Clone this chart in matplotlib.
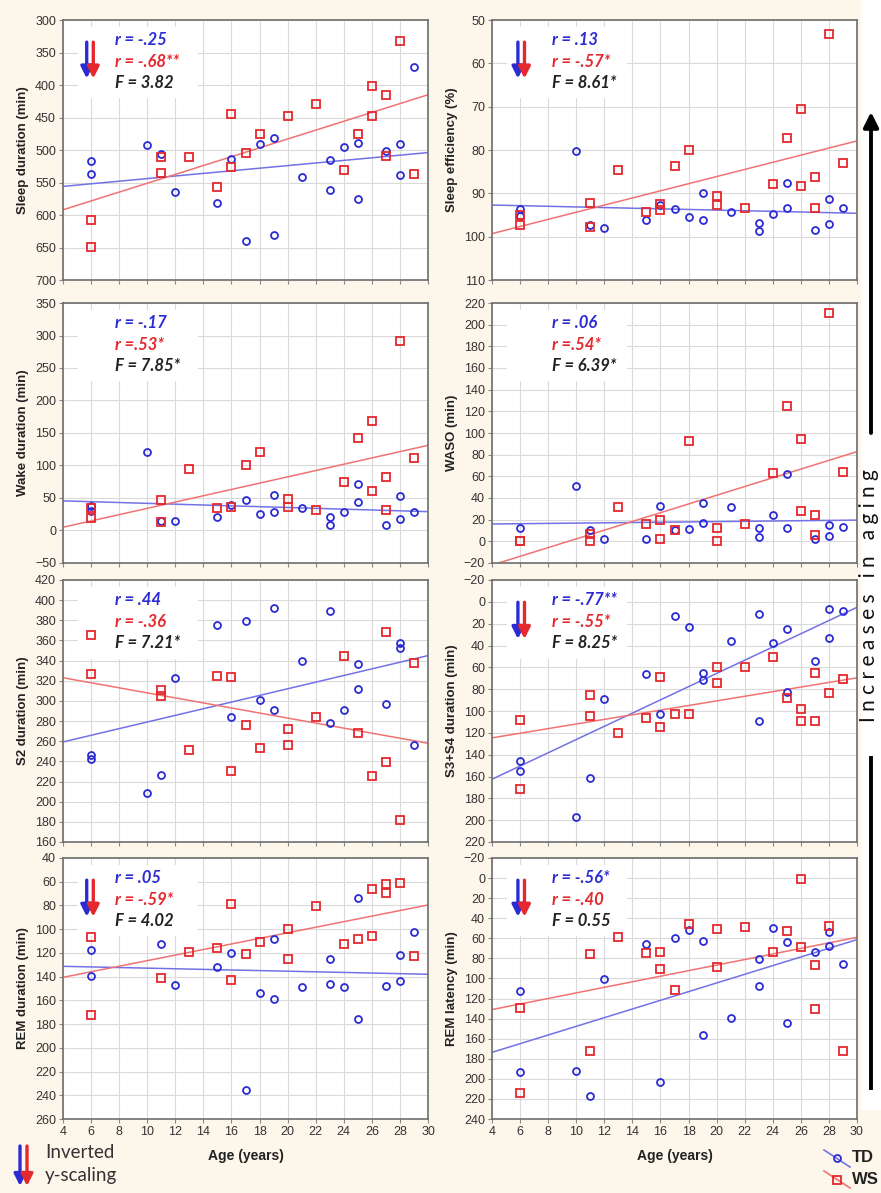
import numpy as np
import matplotlib
matplotlib.use("Agg")
import matplotlib.pyplot as plt
from matplotlib.patches import Rectangle

# ---- data (age in years) ----
sleep_td_age = [6, 6, 10, 11, 12, 15, 16, 17, 18, 19, 19, 21, 23, 23, 24, 25, 25, 27, 28, 28, 29]
sleep_td = [517, 537, 493, 506, 565, 582, 514, 640, 490, 482, 631, 541, 515, 562, 496, 489, 575, 501, 491, 539, 372]
sleep_ws_age = [6, 6, 11, 11, 13, 15, 16, 16, 17, 18, 20, 22, 24, 25, 26, 26, 27, 27, 28, 29]
sleep_ws = [607, 649, 511, 535, 510, 557, 444, 526, 504, 476, 447, 429, 530, 475, 402, 447, 416, 509, 332, 537]

eff_td_age = [6, 6, 10, 11, 12, 15, 16, 17, 18, 19, 19, 21, 23, 23, 24, 25, 25, 27, 28, 28, 29]
eff_td = [93.5, 95.2, 80.3, 97.4, 98.1, 96.2, 92.8, 93.6, 95.5, 89.9, 96.2, 94.3, 96.8, 98.7, 94.8, 87.5, 93.3, 98.4, 91.4, 97.0, 93.4]
eff_ws_age = [6, 6, 11, 11, 13, 15, 16, 16, 17, 18, 20, 20, 22, 24, 25, 26, 26, 27, 27, 28, 29]
eff_ws = [95.0, 97.3, 92.3, 97.8, 84.6, 94.4, 92.5, 93.8, 83.7, 80.1, 90.5, 92.6, 93.3, 87.8, 77.2, 70.6, 88.2, 86.2, 93.3, 53.3, 83.0]

wake_td_age = [6, 6, 10, 11, 12, 15, 16, 17, 18, 19, 19, 21, 23, 23, 24, 25, 25, 27, 28, 28, 29]
wake_td = [38, 30, 121, 14, 14, 21, 39, 47, 25, 55, 28, 35, 20, 8, 28, 72, 44, 9, 53, 17, 28]
wake_ws_age = [6, 6, 11, 11, 13, 15, 16, 17, 18, 20, 20, 22, 24, 25, 26, 26, 27, 27, 28, 29]
wake_ws = [34, 19, 47, 13, 95, 34, 36, 100, 120, 49, 36, 32, 74, 142, 168, 60, 83, 31, 291, 112]

waso_td_age = [6, 10, 11, 12, 15, 16, 17, 18, 19, 19, 21, 23, 23, 24, 25, 25, 27, 28, 28, 29]
waso_td = [12, 51, 10.7, 1.8, 1.8, 33, 10.4, 11.3, 35, 17, 32, 12.5, 3.6, 24.5, 62.5, 12.5, 2, 15.3, 4.8, 13.4]
waso_ws_age = [6, 6, 11, 11, 13, 15, 16, 16, 17, 18, 20, 20, 22, 24, 25, 26, 26, 27, 27, 28, 29]
waso_ws = [0.5, 0, 6.4, 0, 32, 15.6, 19.3, 2, 10, 92.3, 12, 0, 16, 63.5, 125, 94.8, 28, 24.5, 5.5, 211, 64.4]

s2_td_age = [6, 6, 10, 11, 12, 15, 16, 17, 18, 19, 19, 21, 23, 23, 24, 25, 25, 27, 28, 28, 29]
s2_td = [246, 242.5, 208.7, 226, 322.6, 375.6, 284.2, 379.3, 301.4, 392.2, 290.5, 339.2, 388.9, 277.9, 290.5, 336.5, 312.3, 297.1, 357.4, 352.8, 256.7]
s2_ws_age = [6, 6, 11, 11, 13, 15, 16, 16, 17, 18, 20, 20, 22, 24, 25, 26, 27, 27, 28, 29]
s2_ws = [365.7, 326.3, 310.4, 304.4, 251.4, 324.3, 324, 230.9, 276.2, 253.7, 272.3, 256.4, 283.9, 344.8, 268, 225.2, 368, 239.1, 182.2, 337.5]

sws_td_age = [6, 6, 10, 11, 12, 15, 16, 17, 18, 19, 19, 21, 23, 23, 24, 25, 25, 27, 28, 28, 29]
sws_td = [146, 154.9, 197.4, 161.6, 88.8, 66.5, 103.2, 12.7, 23.4, 65.3, 72, 35.6, 11.5, 109.3, 38.1, 24.6, 82.4, 54, 6.9, 33.5, 8.7]
sws_ws_age = [6, 6, 11, 11, 13, 15, 16, 16, 17, 18, 20, 20, 22, 24, 25, 26, 26, 27, 27, 28, 29]
sws_ws = [108.1, 171.7, 85.5, 105, 120.3, 106, 69.3, 114.5, 102.3, 102.3, 59.8, 73.9, 59.5, 50.3, 88.2, 98, 109, 65.6, 109, 83.3, 70.8]

remd_td_age = [6, 6, 11, 12, 15, 16, 17, 18, 19, 19, 21, 23, 23, 24, 25, 25, 27, 28, 28, 29]
remd_td = [117.8, 139.5, 112.2, 147, 131.9, 120.4, 235.8, 153.8, 108.6, 159.1, 148.7, 125.4, 145.9, 149, 73.7, 176, 147.6, 121.5, 144, 102.7]
remd_ws_age = [6, 6, 11, 13, 15, 16, 16, 17, 18, 20, 20, 22, 24, 25, 26, 26, 27, 27, 28, 29]
remd_ws = [106.6, 172.3, 140.9, 119.5, 116.1, 78.5, 142.6, 120.6, 110.5, 99.8, 124.9, 80.2, 112.5, 108.6, 66.4, 106, 61.6, 69.5, 60.8, 122.3]

reml_td_age = [6, 6, 10, 11, 12, 15, 16, 17, 18, 19, 19, 21, 23, 23, 24, 25, 25, 27, 28, 28, 29]
reml_td = [112.8, 193.1, 192.2, 217, 100.9, 66, 203.1, 59.7, 51.7, 63, 156.6, 139.4, 80.3, 107.8, 49.4, 64, 144.3, 73.6, 54, 67.6, 85.9]
reml_ws_age = [6, 6, 11, 11, 13, 15, 16, 16, 17, 18, 20, 20, 22, 24, 25, 26, 26, 27, 27, 28, 29]
reml_ws = [129.7, 214, 75.3, 172.2, 58.7, 74.6, 73.6, 90.2, 111.5, 45.4, 50.4, 88.9, 49, 73.6, 53, 0.9, 69, 86.2, 130, 48, 172.2]

# regression lines as drawn in the figure: value at age 4 and at age 30
fit_ages = [4, 30]
fit_td = [(556, 504), (92.7, 94.6), (45.6, 29), (16, 19.6),
          (259.3, 345), (162.5, 5), (131.3, 138), (173.6, 61.3)]
fit_ws = [(592, 415), (99.3, 77.9), (5, 131), (-21.9, 82.8),
          (323, 258), (124.6, 69.6), (140.6, 79.6), (131, 59)]

ylabels = ["Sleep duration (min)", "Sleep efficiency (%)", "Wake duration (min)", "WASO (min)",
           "S2 duration (min)", "S3+S4 duration (min)", "REM duration (min)", "REM latency (min)"]
r_td_txt = ["r = -.25", "r = .13", "r = -.17", "r = .06", "r = .44", "r = -.77**", "r = .05", "r = -.56*"]
r_ws_txt = ["r = -.68**", "r = -.57*", "r =.53*", "r =.54*", "r = -.36", "r = -.55*", "r = -.59*", "r = -.40"]
f_txt = ["F = 3.82", "F = 8.61*", "F = 7.85*", "F = 6.39*", "F = 7.21*", "F = 8.25*", "F = 4.02", "F = 0.55"]
inverted = [True, True, False, False, False, True, True, True]
y_ticks = [(300, 700, 50), (50, 110, 10), (-50, 350, 50), (-20, 220, 20),
           (160, 420, 20), (-20, 220, 20), (40, 260, 20), (-20, 240, 20)]

panels = [
    (sleep_td_age, sleep_td, sleep_ws_age, sleep_ws),
    (eff_td_age, eff_td, eff_ws_age, eff_ws),
    (wake_td_age, wake_td, wake_ws_age, wake_ws),
    (waso_td_age, waso_td, waso_ws_age, waso_ws),
    (s2_td_age, s2_td, s2_ws_age, s2_ws),
    (sws_td_age, sws_td, sws_ws_age, sws_ws),
    (remd_td_age, remd_td, remd_ws_age, remd_ws),
    (reml_td_age, reml_td, reml_ws_age, reml_ws),
]

BG = "#fcf6eb"
BLUE = "#2b2bd4"
RED = "#e4282e"
BLUE_LN = "#7272e6"
RED_LN = "#f07373"

plt.rcParams["font.family"] = ["Liberation Sans", "DejaVu Sans"]

W, H = 881, 1193
fig = plt.figure(figsize=(W / 100, H / 100), dpi=100, facecolor=BG)
# white strip behind the aging arrow (drawn under everything else)
fig.patches.append(Rectangle((861 / W, 1 - 1110 / H), 20 / W, 1110 / H,
                             transform=fig.transFigure, facecolor="white",
                             edgecolor="none", zorder=-5))

col_left = [63, 492]
row_box = [(20, 280), (303, 563), (580, 842), (858, 1119)]
ax_w = 365

for i, (ta, tv, wa, wv) in enumerate(panels):
    row, col = divmod(i, 2)
    top, bot = row_box[row]
    ax = fig.add_axes([col_left[col] / W, 1 - bot / H, ax_w / W, (bot - top) / H])
    ax.set_facecolor("white")

    lo, hi, st = y_ticks[i]
    ax.set_xlim(4, 30)
    if inverted[i]:
        ax.set_ylim(hi, lo)
    else:
        ax.set_ylim(lo, hi)
    ax.set_xticks(np.arange(4, 31, 2))
    ax.set_yticks(np.arange(lo, hi + st / 2, st))
    ax.grid(True, color="#dadada", lw=0.8)
    ax.set_axisbelow(True)
    for s in ax.spines.values():
        s.set_color("#6e6e6e")
        s.set_linewidth(1.2)
    ax.tick_params(direction="out", length=3, width=0.8, color="#888888",
                   labelsize=9, labelcolor="#333333", pad=2)
    if row < 3:
        ax.tick_params(axis="x", labelbottom=False)
    else:
        ax.set_xlabel("Age (years)", fontsize=10, fontweight="bold", color="#222222", labelpad=8)
    ax.set_ylabel(ylabels[i], fontsize=9.5, fontweight="bold", color="#222222", labelpad=4)

    # regression lines
    ax.plot(fit_ages, fit_td[i], color=BLUE_LN, lw=1.1, zorder=2)
    ax.plot(fit_ages, fit_ws[i], color=RED_LN, lw=1.1, zorder=2)

    ax.plot(ta, tv, "o", ms=5, mfc="none", mec=BLUE, mew=1.3, zorder=3)
    ax.plot(wa, wv, "s", ms=5.5, mfc="none", mec=RED, mew=1.3, zorder=3)

    # stats box
    tx = 0.143 if col == 0 else 0.165
    ys3 = [0.925, 0.84, 0.758]
    ax.add_patch(Rectangle((0.04, 0.70), 0.33, 0.275, transform=ax.transAxes,
                           facecolor="white", edgecolor="none", zorder=1.5))
    for yy, t, c in zip(ys3, [r_td_txt[i], r_ws_txt[i], f_txt[i]], [BLUE, RED, "#222222"]):
        ax.text(tx, yy, t, transform=ax.transAxes, color=c, fontsize=12,
                fontweight="bold", style="italic", family=["Lato", "DejaVu Sans"],
                va="center", ha="left", zorder=4)

    if inverted[i]:
        ax0 = 0.065 if col == 0 else 0.071
        for dx, c in [(0, BLUE), (0.018, RED)]:
            ax.annotate("", xy=(ax0 + dx, 0.775), xytext=(ax0 + dx, 0.915),
                        xycoords="axes fraction",
                        arrowprops=dict(arrowstyle="-|>,head_width=0.35,head_length=0.7",
                                        color=c, lw=2.4, shrinkA=0, shrinkB=0), zorder=4)

# ---- figure-level decorations (pixel coords) ----
ov = fig.add_axes([0, 0, 1, 1], facecolor="none")
ov.set_xlim(0, W)
ov.set_ylim(H, 0)
ov.axis("off")

ov.annotate("", xy=(871, 112), xytext=(871, 433),
            arrowprops=dict(arrowstyle="-|>,head_width=0.45,head_length=0.9",
                            color="black", lw=2.8, shrinkA=0, shrinkB=0))
ov.plot([871, 871], [758, 1088], color="black", lw=2.8)
ov.text(869, 596, "I n c r e a s e s   i n   a g i n g", rotation=90, ha="center",
        va="center", fontsize=15, family=["Lato", "DejaVu Sans"], color="#111111",
        clip_on=False)

# inverted y-scaling key
for x0, c in [(20, BLUE), (27, RED)]:
    ov.annotate("", xy=(x0, 1186), xytext=(x0, 1146),
                arrowprops=dict(arrowstyle="-|>,head_width=0.35,head_length=0.7",
                                color=c, lw=2.4, shrinkA=0, shrinkB=0))
ov.text(45, 1153, "Inverted", fontsize=13.5, family=["Lato", "DejaVu Sans"],
        color="#333333", va="center", ha="left")
ov.text(45, 1176, "y-scaling", fontsize=13.5, family=["Lato", "DejaVu Sans"],
        color="#333333", va="center", ha="left")

# TD / WS key
ov.plot([824, 850], [1150, 1167], color=BLUE_LN, lw=1.2)
ov.plot(837, 1158, "o", ms=5, mfc="none", mec=BLUE, mew=1.3)
ov.text(852, 1158, "TD", fontsize=12, fontweight="bold", color="#222222", va="center")
ov.plot([824, 850], [1171, 1188], color=RED_LN, lw=1.2)
ov.plot(837, 1180, "s", ms=5.5, mfc="none", mec=RED, mew=1.3)
ov.text(852, 1179, "WS", fontsize=12, fontweight="bold", color="#222222", va="center")

fig.savefig("out.png", dpi=100, facecolor=BG)
